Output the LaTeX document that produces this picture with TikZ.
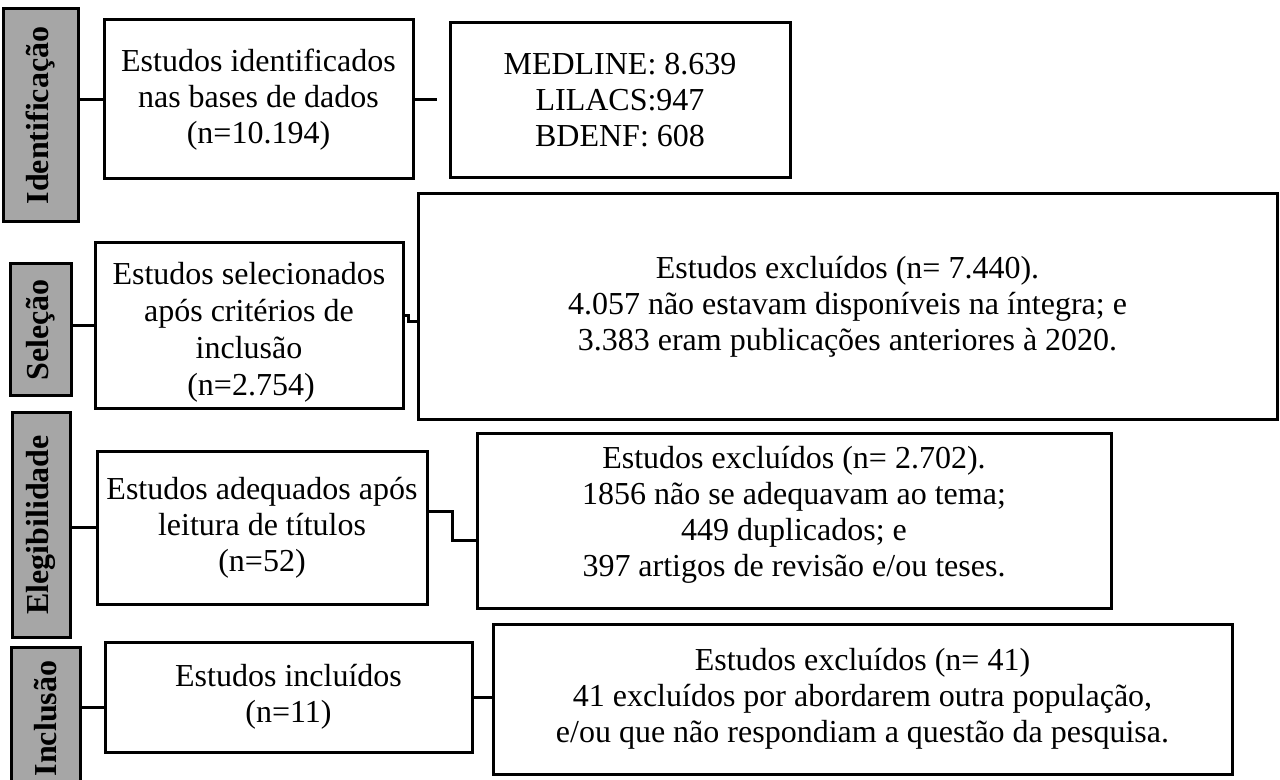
\documentclass[tikz,border=0pt]{standalone}
\usepackage{fontspec}
\setmainfont{Liberation Serif}
\usetikzlibrary{calc}
\definecolor{labgray}{HTML}{A6A6A6}
\tikzset{
  box/.style={draw=black, line width=1.5pt, fill=white, inner sep=0pt, align=center,
    font=\fontsize{16}{18}\selectfont},
  lab/.style={draw=black, line width=1.5pt, fill=labgray, inner sep=0pt, align=center,
    rotate=90, font=\fontsize{16}{18}\selectfont\bfseries},
  conn/.style={draw=black, line width=1.5pt}
}
\begin{document}
\begin{tikzpicture}[x=0.5pt,y=-0.5pt]
\useasboundingbox (0,0) rectangle (1280,780);

% stage labels (rotated: width = vertical extent)
\node[lab, minimum width=106.5pt, minimum height=37.5pt] (L1) at (40.5,115.5) {Identificação};
\node[lab, minimum width=66pt, minimum height=30.5pt] (L2) at (40.5,330) {Seleção};
\node[lab, minimum width=112pt, minimum height=29pt] (L3) at (41,525) {Elegibilidade};
\node[lab, minimum width=71.5pt, minimum height=34.5pt] (L4) at (45.5,718.5) {Inclusão};

% boxes
\node[box, minimum width=154.5pt, minimum height=79.5pt] (B1) at (258.5,99.5)
  {Estudos identificados\\nas bases de dados\\(n=10.194)};
\node[box, minimum width=170pt, minimum height=77.5pt] (B2) at (620,100.5)
  {MEDLINE: 8.639\\LILACS:947\\BDENF: 608};
\node[box, minimum width=154pt, minimum height=83pt] (B3) at (249,326)
  {\parbox{150pt}{\centering\baselineskip=18.5pt \vspace*{6pt}Estudos selecionados\\após critérios de\\inclusão\\ \hspace*{2pt}(n=2.754)}};
\node[box, minimum width=429.5pt, minimum height=113pt] (B4) at (847.5,307)
  {Estudos excluídos (n= 7.440).\\4.057 não estavam disponíveis na íntegra; e\\3.383 eram publicações anteriores à 2020.};
\node[box, minimum width=165pt, minimum height=76pt] (B5) at (262,528)
  {Estudos adequados após\\leitura de títulos\\(n=52)};
\node[box, minimum width=317pt, minimum height=87pt] (B6) at (794,521)
  {\parbox{300pt}{\centering Estudos excluídos (n= 2.702).\\1856 não se adequavam ao tema;\\449 duplicados; e\\397 artigos de revisão e/ou teses.\par\vspace*{6pt}}};
\node[box, minimum width=183.5pt, minimum height=55pt] (B7) at (288.5,697)
  {Estudos incluídos\\(n=11)};
\node[box, minimum width=369.5pt, minimum height=75pt] (B8) at (862.5,699)
  {Estudos excluídos (n= 41)\\41 excluídos por abordarem outra população,\\e/ou que não respondiam a questão da pesquisa.};

\coordinate (G1) at (437,99.5);

% connectors
\draw[conn] (B1.west -| L1.south) -- (B1.west);
\draw[conn] (B1.east) -- (G1);
\draw[conn] (B3.west -| L2.south) -- (B3.west);
\draw[conn] ([yshift=5pt]B3.east) -- ++(2pt,0) |- ([yshift=-7.5pt]B4.west);
\draw[conn] (B5.west -| L3.south) -- (B5.west);
\draw[conn] ([yshift=8pt]B5.east) -- ++(12pt,0) |- ([yshift=-9.5pt]B6.west);
\draw[conn] ([yshift=-5pt]B7.west -| L4.south) -- ([yshift=-5pt]B7.west);
\draw[conn] (B7.east) -- (B7.east -| B8.west);
\end{tikzpicture}
\end{document}
